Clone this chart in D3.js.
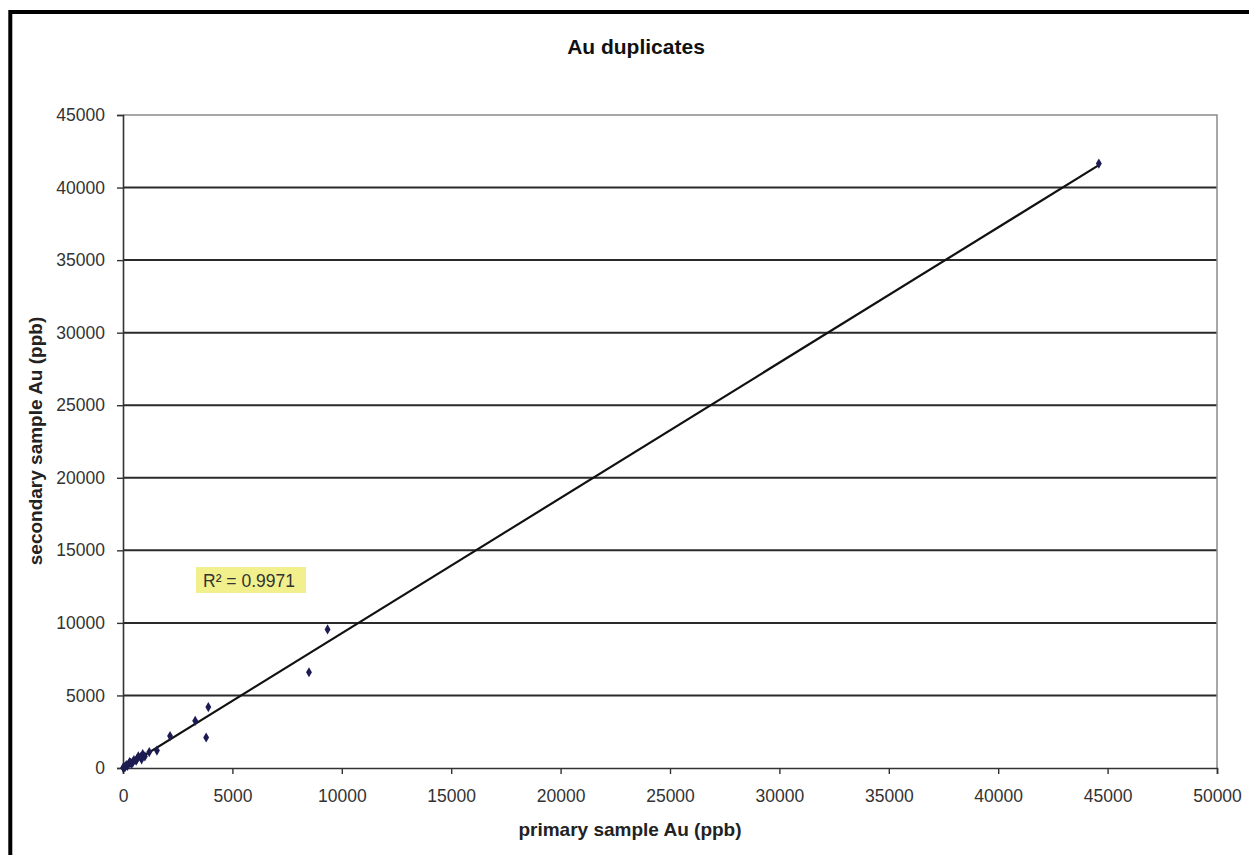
<!DOCTYPE html>
<html>
<head>
<meta charset="utf-8">
<script src="https://cdn.jsdelivr.net/npm/d3@7"></script>
<style>
  body { margin: 0; background: #fff; }
  svg { display: block; font-family: "Liberation Sans", Arial, sans-serif; }
</style>
</head>
<body>
<svg class="chart" width="1249" height="855"></svg>
<script>
// primary vs secondary Au (ppb)
const primary   = [44600, 9350, 8500, 3900, 3800, 3300, 2150, 1550, 1200, 1000, 900, 850, 800, 700, 650, 600, 500, 450, 400, 350, 300, 250, 200, 150, 100, 50, 20, 10];
const secondary = [41650, 9550, 6600, 4200, 2100, 3250, 2200, 1200, 1100, 800, 950, 600, 750, 800, 650, 500, 550, 400, 300, 350, 400, 250, 150, 200, 80, 60, 10, 30];
const xTicks = [0, 5000, 10000, 15000, 20000, 25000, 30000, 35000, 40000, 45000, 50000];
const yTicks = [0, 5000, 10000, 15000, 20000, 25000, 30000, 35000, 40000, 45000];

const margin = { top: 115, right: 32, bottom: 87, left: 123 },
      width = 1249 - margin.left - margin.right,
      height = 855 - margin.top - margin.bottom;

const svg = d3.select(".chart");

// outer frame
svg.append("rect")
    .attr("x", 10.3).attr("y", 12)
    .attr("width", 1260).attr("height", 860)
    .attr("fill", "none").attr("stroke", "#000").attr("stroke-width", 4);

svg.append("text")
    .attr("x", 636).attr("y", 54)
    .attr("text-anchor", "middle")
    .attr("font-size", 21).attr("font-weight", "bold").attr("fill", "#111")
    .text("Au duplicates");

const g = svg.append("g")
    .attr("transform", `translate(${margin.left}, ${margin.top})`);

const x = d3.scaleLinear().domain([0, 50000]).range([0, width]);
const y = d3.scaleLinear().domain([0, 45000]).range([height, 0]);

// grid lines
g.selectAll(".grid")
    .data(yTicks.filter(d => d > 0 && d < 45000))
    .enter().append("line")
    .attr("x1", 0).attr("x2", width)
    .attr("y1", d => y(d)).attr("y2", d => y(d))
    .attr("stroke", "#2a2a2a").attr("stroke-width", 2);

// plot border top/right
g.append("path")
    .attr("d", `M0,${y(45000)}H${width}V${height}`)
    .attr("fill", "none").attr("stroke", "#8a8a8a").attr("stroke-width", 1.5);

const xAxis = g.append("g")
    .attr("transform", `translate(0, ${height})`)
    .call(d3.axisBottom(x).tickValues(xTicks).tickFormat(d3.format("d")).tickSize(6).tickPadding(16));
const yAxis = g.append("g")
    .call(d3.axisLeft(y).tickValues(yTicks).tickFormat(d3.format("d")).tickSize(6).tickPadding(12));

[xAxis, yAxis].forEach(a => {
    a.select(".domain").attr("stroke", "#333").attr("stroke-width", 1.6);
    a.selectAll(".tick line").attr("stroke", "#333").attr("stroke-width", 1.4);
    a.selectAll(".tick text").attr("font-size", 17.5).attr("fill", "#333")
        .attr("font-family", "Liberation Sans, Arial, sans-serif");
});

// axis titles
svg.append("text")
    .attr("x", 630).attr("y", 836)
    .attr("text-anchor", "middle")
    .attr("font-size", 19).attr("font-weight", "bold").attr("fill", "#222")
    .text("primary sample Au (ppb)");

svg.append("text")
    .attr("transform", "translate(42, 441) rotate(-90)")
    .attr("text-anchor", "middle")
    .attr("font-size", 19).attr("font-weight", "bold").attr("fill", "#222")
    .text("secondary sample Au (ppb)");

// linear trend line (least squares)
const pts = primary.map((p, i) => [p, secondary[i]]);
const mx = d3.mean(primary), my = d3.mean(secondary);
const sxy = d3.sum(pts, d => (d[0] - mx) * (d[1] - my));
const sxx = d3.sum(pts, d => (d[0] - mx) ** 2);
const slope = sxy / sxx, icpt = my - slope * mx;
const x0 = d3.min(primary), x1 = d3.max(primary);

g.append("line")
    .attr("x1", x(x0)).attr("y1", y(slope * x0 + icpt))
    .attr("x2", x(x1)).attr("y2", y(slope * x1 + icpt))
    .attr("stroke", "#111").attr("stroke-width", 2.2);

g.selectAll(".pt")
    .data(pts)
    .enter().append("path")
    .attr("class", "pt")
    .attr("d", d3.symbol(d3.symbolDiamond, 30))
    .attr("transform", d => `translate(${x(d[0])}, ${y(d[1])})`)
    .attr("fill", "#1c1c52");

// R² label
svg.append("rect")
    .attr("x", 196).attr("y", 567).attr("width", 110).attr("height", 26)
    .attr("fill", "#f1f08c");
svg.append("text")
    .attr("x", 203).attr("y", 587)
    .attr("font-size", 17.5).attr("fill", "#333")
    .text("R² = 0.9971");
</script>
</body>
</html>
